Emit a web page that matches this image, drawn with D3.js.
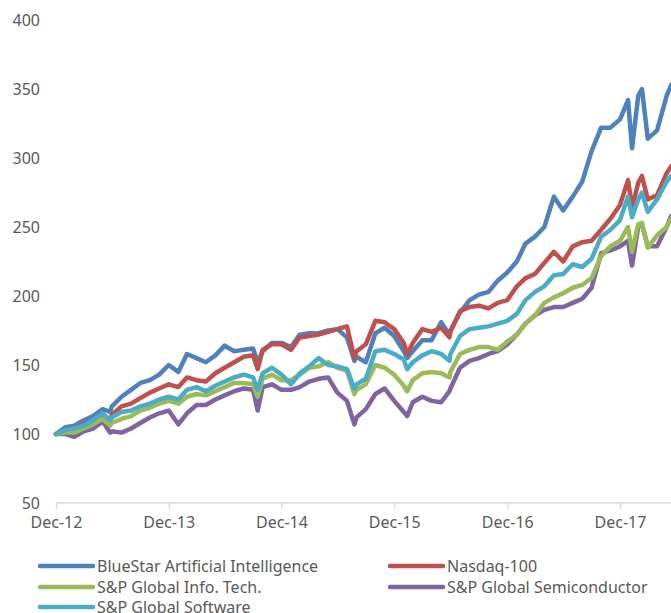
<!DOCTYPE html>
<html>
<head>
<meta charset="utf-8">
<script src="https://cdn.jsdelivr.net/npm/d3@7"></script>
<style>
  body { margin: 0; background: #fff; }
  svg { display: block; }
  text { font-family: "Noto Sans", "Open Sans", sans-serif; fill: #595959; }
</style>
</head>
<body>
<div id="chart"></div>
<script>
// month-end readings plus a few dated market dips / peaks
var dates = [
  "2012-12-31", "2013-01-31", "2013-02-28", "2013-03-31", "2013-04-30", "2013-05-31", "2013-06-24", "2013-06-30",
  "2013-07-31", "2013-08-31", "2013-09-30", "2013-10-31", "2013-11-30", "2013-12-31",
  "2014-01-31", "2014-02-28", "2014-03-31", "2014-04-30", "2014-05-31", "2014-06-30",
  "2014-07-31", "2014-08-31", "2014-09-30", "2014-10-15", "2014-10-31", "2014-11-30", "2014-12-31",
  "2015-01-31", "2015-02-28", "2015-03-31", "2015-04-30", "2015-05-31", "2015-06-30",
  "2015-07-31", "2015-08-24", "2015-08-31", "2015-09-30", "2015-10-31", "2015-11-30", "2015-12-31",
  "2016-01-31", "2016-02-11", "2016-02-29", "2016-03-31", "2016-04-30", "2016-05-31", "2016-06-27", "2016-06-30",
  "2016-07-31", "2016-08-31", "2016-09-30", "2016-10-31", "2016-11-30", "2016-12-31",
  "2017-01-31", "2017-02-28", "2017-03-31", "2017-04-30", "2017-05-31", "2017-06-30",
  "2017-07-31", "2017-08-31", "2017-09-30", "2017-10-31", "2017-11-30", "2017-12-31",
  "2018-01-26", "2018-02-08", "2018-02-28", "2018-03-12", "2018-03-31", "2018-04-30", "2018-05-31", "2018-06-15"
];

var bluestar = [
  100, 105, 106, 110, 113, 118, 116, 120,
  127, 132, 137, 139, 143, 150,
  145, 158, 155, 152, 157, 164,
  160, 161, 162, 152, 160, 166, 166,
  163, 172, 173, 173, 175, 176,
  170, 153, 156, 152, 173, 177, 171,
  160, 155, 160, 168, 168, 181, 172, 175,
  188, 197, 201, 203, 211, 217,
  225, 238, 243, 250, 272, 262,
  272, 283, 305, 322, 322, 328,
  342, 307, 345, 350, 314, 320, 345, 353
];

var nasdaq = [
  100, 103, 104, 107, 110, 113, 110, 114,
  120, 122, 126, 130, 133, 136,
  134, 141, 139, 138, 144, 148,
  152, 156, 157, 147, 161, 165, 165,
  161, 170, 171, 172, 174, 176,
  178, 155, 160, 165, 182, 181, 176,
  166, 158, 166, 176, 174, 177, 170, 174,
  189, 192, 193, 191, 195, 197,
  207, 213, 216, 224, 232, 225,
  236, 239, 240, 248, 256, 266,
  284, 264, 282, 287, 270, 273, 289, 294
];

var infoTech = [
  100, 101, 101, 104, 107, 111, 106, 108,
  111, 113, 117, 119, 122, 124,
  122, 127, 129, 128, 131, 134,
  137, 137, 136, 127, 140, 143, 139,
  139, 143, 148, 149, 152, 148,
  146, 129, 132, 136, 150, 148, 143,
  135, 131, 139, 144, 145, 144, 141, 145,
  158, 161, 163, 163, 161, 167,
  172, 180, 186, 195, 199, 202,
  206, 208, 213, 229, 236, 240,
  250, 232, 252, 253, 235, 244, 250, 256
];

var semis = [
  100, 100, 98, 102, 104, 109, 101, 102,
  101, 104, 108, 112, 115, 117,
  107, 115, 121, 121, 125, 128,
  131, 133, 132, 117, 134, 136, 132,
  132, 134, 138, 140, 141, 130,
  124, 107, 112, 118, 129, 133, 124,
  116, 113, 123, 127, 124, 123, 131, 133,
  148, 153, 155, 158, 160, 165,
  172, 180, 186, 190, 192, 192,
  195, 198, 206, 231, 233, 236,
  240, 222, 250, 252, 236, 236, 250, 258
];

var software = [
  100, 103, 104, 106, 110, 115, 110, 112,
  116, 117, 120, 122, 125, 127,
  125, 132, 134, 131, 135, 138,
  141, 143, 141, 132, 144, 148, 143,
  136, 144, 149, 155, 150, 149,
  147, 133, 136, 140, 160, 161, 158,
  154, 147, 152, 157, 160, 158, 153, 158,
  171, 176, 177, 178, 180, 182,
  187, 197, 203, 207, 215, 216,
  223, 221, 227, 243, 248, 255,
  272, 257, 270, 275, 261, 270, 283, 287
];

var seriesNames = ["BlueStar Artificial Intelligence", "Nasdaq-100", "S&P Global Info. Tech.",
                   "S&P Global Semiconductor", "S&P Global Software"];
var seriesValues = [bluestar, nasdaq, infoTech, semis, software];
var seriesColors = ["#4f81bd", "#c0504d", "#9bbb59", "#8064a2", "#4bacc6"];
// draw order: later ones on top
var drawOrder = [0, 1, 3, 2, 4];

var yTicks = [50, 100, 150, 200, 250, 300, 350, 400];
var xTicks = ["2012-12-31", "2013-12-31", "2014-12-31", "2015-12-31", "2016-12-31", "2017-12-31"];
var xTickLabels = ["Dec-12", "Dec-13", "Dec-14", "Dec-15", "Dec-16", "Dec-17"];

var width = 671, height = 613;
var parse = d3.timeParse("%Y-%m-%d");

var svg = d3.select("#chart").append("svg")
    .attr("width", width)
    .attr("height", height);

var x = d3.scaleTime()
    .domain([parse("2012-12-31"), parse("2017-12-31")])
    .range([56, 620]);

var y = d3.scaleLinear()
    .domain([50, 400])
    .range([503, 20]);

// y labels (no axis line)
svg.append("g")
  .selectAll("text")
  .data(yTicks)
  .enter().append("text")
    .attr("x", 40)
    .attr("y", function(d) { return y(d); })
    .attr("dy", "0.35em")
    .attr("text-anchor", "end")
    .style("font-size", "16px")
    .text(function(d) { return d; });

// x axis
var xAxis = d3.axisBottom(x)
    .tickValues(xTicks.map(parse))
    .tickSize(6)
    .tickFormat(function(d, i) { return xTickLabels[i]; });

var gx = svg.append("g")
    .attr("transform", "translate(0," + y(50) + ")")
    .call(xAxis);

gx.select(".domain").remove();
gx.append("line")
    .attr("x1", 56).attr("x2", width)
    .attr("stroke", "#d9d9d9").attr("stroke-width", 1.3);
gx.selectAll(".tick line").attr("stroke", "#d9d9d9").attr("stroke-width", 1.3);
gx.selectAll(".tick text")
    .attr("y", 14)
    .style("font-size", "16px")
    .style("font-family", '"Noto Sans", sans-serif')
    .attr("fill", "#595959");

// lines
var line = d3.line()
    .x(function(d, i) { return x(parse(dates[i])); })
    .y(function(d) { return y(d); });

svg.append("g")
  .selectAll("path")
  .data(drawOrder)
  .enter().append("path")
    .attr("d", function(k) { return line(seriesValues[k]); })
    .attr("fill", "none")
    .attr("stroke", function(k) { return seriesColors[k]; })
    .attr("stroke-width", 4.5)
    .attr("stroke-linejoin", "round")
    .attr("stroke-linecap", "round");

// legend (last row is cut at the bottom edge, as in the original)
var legendPos = [[40, 566], [390, 566], [40, 587], [390, 587], [40, 607]];
var legend = svg.append("g")
  .selectAll("g")
  .data(seriesNames)
  .enter().append("g")
    .attr("transform", function(d, i) { return "translate(" + legendPos[i][0] + "," + legendPos[i][1] + ")"; });

legend.append("line")
    .attr("x1", 0).attr("x2", 53)
    .attr("stroke", function(d, i) { return seriesColors[i]; })
    .attr("stroke-width", 4.5)
    .attr("stroke-linecap", "round");

legend.append("text")
    .attr("x", 57)
    .attr("dy", "0.35em")
    .style("font-size", "16px")
    .text(function(d) { return d; });
</script>
</body>
</html>
